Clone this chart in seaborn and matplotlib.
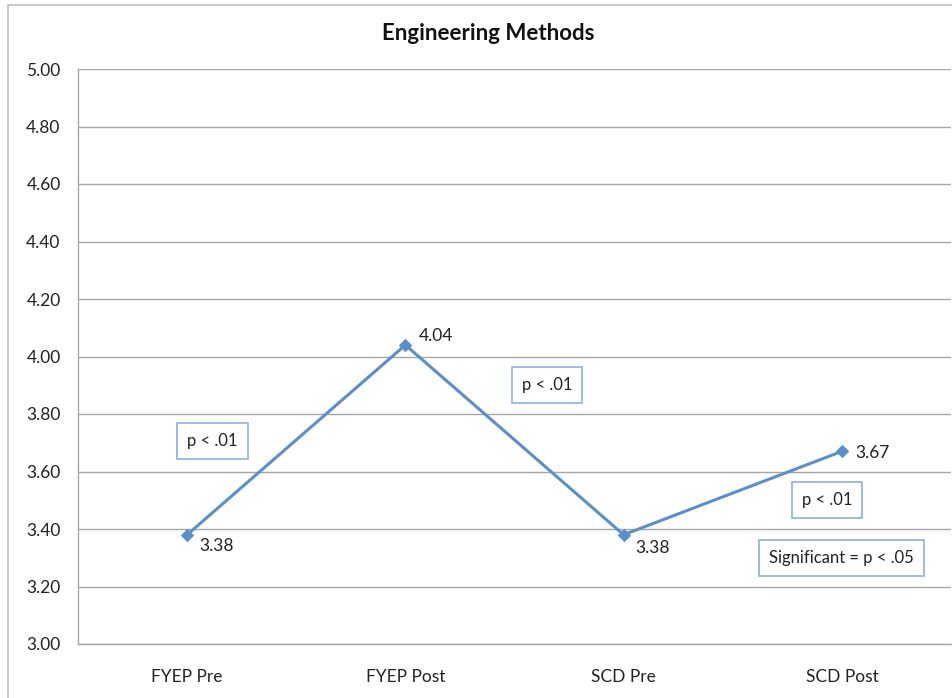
import pandas as pd
import matplotlib.pyplot as plt
import seaborn as sns
from matplotlib.patches import Rectangle

# data
groups = ["FYEP Pre", "FYEP Post", "SCD Pre", "SCD Post"]
scores = [3.38, 4.04, 3.38, 3.67]
y_ticks = [3.00, 3.20, 3.40, 3.60, 3.80, 4.00, 4.20, 4.40, 4.60, 4.80, 5.00]
notes = ["p < .01", "p < .01", "p < .01", "Significant = p < .05"]

df = pd.DataFrame({"Group": groups, "Score": scores})

sns.set_theme(style="white")
plt.rcParams["font.family"] = ["Lato", "DejaVu Sans"]

line_color = "#5b8fc9"
grid_color = "#a6a6a6"
text_color = "#222222"

fig = plt.figure(figsize=(9.53, 6.98), dpi=100)
# outer chart area border (runs off the right and bottom edges)
fig.patches.append(Rectangle((8 / 953, -0.05), 1.1, 1 - 5 / 698 + 0.05,
                             transform=fig.transFigure, fill=False,
                             edgecolor="#bfbfbf", linewidth=1.2))
ax = fig.add_axes([78 / 953, 1 - 644 / 698, 873 / 953, 575 / 698])

sns.lineplot(data=df, x="Group", y="Score", sort=False, ax=ax,
             color=line_color, linewidth=2.2, marker="D", markersize=6,
             markeredgecolor=line_color)

ax.set_xlim(-0.5, 3.5)
ax.set_ylim(3.0, 5.0)
ax.set_yticks(y_ticks)
ax.set_yticklabels([f"{v:.2f}" for v in y_ticks])
ax.set_xticks(range(len(groups)))
ax.set_xticklabels(groups)
ax.set_xlabel("")
ax.set_ylabel("")
ax.tick_params(axis="x", labelsize=12.5, labelcolor=text_color, length=0, pad=18)

# category boundary ticks on the x axis
ax.set_xticks([-0.5, 0.5, 1.5, 2.5, 3.5], minor=True)
ax.tick_params(axis="x", which="minor", length=5, width=1, color=grid_color,
               direction="out")
ax.tick_params(axis="y", labelsize=12.5, length=4.5, width=1, color=grid_color,
               labelcolor=text_color, direction="out", pad=8)

ax.yaxis.grid(True, color=grid_color, linewidth=1)
ax.set_axisbelow(True)
for side in ["top", "right"]:
    ax.spines[side].set_visible(False)
for side in ["left", "bottom"]:
    ax.spines[side].set_color(grid_color)
    ax.spines[side].set_linewidth(1)

fig.text(488 / 953, 1 - 34 / 698, "Engineering Methods", fontsize=16,
         fontweight="bold", color="#111111", ha="center", va="center")

# data labels
offsets = [(8.6, -8), (9.4, 6.5), (8.6, -9.4), (10, -1.4)]
for i, (g, s) in enumerate(zip(groups, scores)):
    ax.annotate(f"{s:.2f}", (i, s), xytext=offsets[i], textcoords="offset points",
                fontsize=12.5, color=text_color, ha="left", va="center")

# significance boxes
box_pos = [(0.1541, 0.3522), (0.5372, 0.4496), (0.8580, 0.2504), (0.8746, 0.1496)]
for txt, (bx, by) in zip(notes, box_pos):
    ax.text(bx, by, txt, transform=ax.transAxes, fontsize=12, color=text_color,
            ha="center", va="center",
            bbox=dict(boxstyle="square,pad=0.6", facecolor="white",
                      edgecolor="#8db0dc", linewidth=1.2))

fig.savefig("out.png", dpi=100)
